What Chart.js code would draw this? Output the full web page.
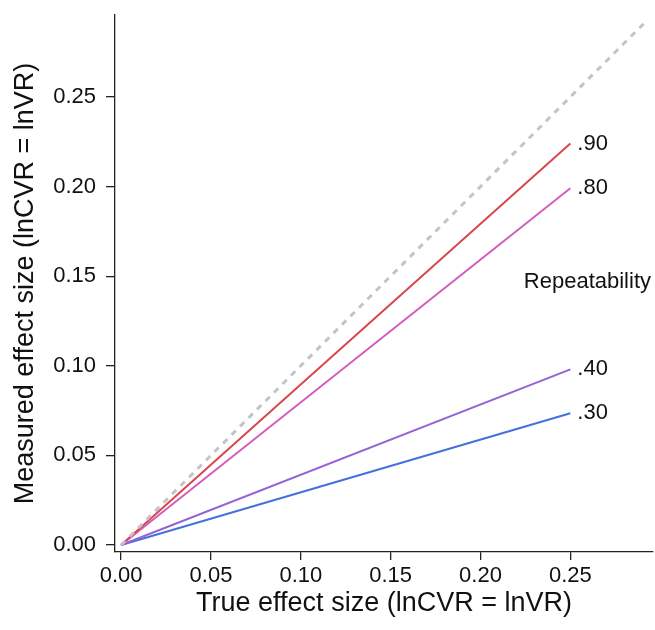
<!DOCTYPE html>
<html>
<head>
<meta charset="utf-8">
<script src="https://cdn.jsdelivr.net/npm/chart.js@4"></script>
<style>
  html, body { margin: 0; padding: 0; background: #ffffff; }
  #c { display: block; }
</style>
</head>
<body>
<canvas id="c" width="655" height="630"></canvas>
<script>
// ---- data ----
const trueEffect = [0, 0.25];
const identityX = [0, 0.291];
const identityY = [0, 0.291];
const repeatabilityLabels = ['.90', '.80', '.40', '.30'];
const measured90 = [0, 0.224];
const measured80 = [0, 0.199];
const measured40 = [0, 0.098];
const measured30 = [0, 0.0735];
const xTicks = [0, 0.05, 0.10, 0.15, 0.20, 0.25];
const yTicks = [0, 0.05, 0.10, 0.15, 0.20, 0.25];
const legendTitle = 'Repeatability';
const legendTitlePos = [0.2595, 0.147];
const xTitle = 'True effect size (lnCVR = lnVR)';
const yTitle = 'Measured effect size (lnCVR = lnVR)';

const seriesValues = [measured90, measured80, measured40, measured30];
const seriesColors = ['#d9464b', '#d45cbe', '#9563d6', '#4470dc'];

const toPts = (xs, ys) => xs.map((x, i) => ({ x: x, y: ys[i] }));

const datasets = [{
  label: 'identity',
  data: toPts(identityX, identityY),
  borderColor: '#c4c4c4',
  borderWidth: 3,
  borderDash: [6, 6],
  pointRadius: 0,
  showLine: true,
  fill: false
}];
seriesValues.forEach((vals, i) => {
  datasets.push({
    label: repeatabilityLabels[i],
    data: toPts(trueEffect, vals),
    borderColor: seriesColors[i],
    borderWidth: 2,
    pointRadius: 0,
    showLine: true,
    fill: false,
    endLabel: true
  });
});

const FONT = '"Liberation Sans", Arial, Helvetica, sans-serif';

const labelPlugin = {
  id: 'endLabels',
  afterDatasetsDraw(chart) {
    const ctx = chart.ctx;
    ctx.save();
    ctx.fillStyle = '#111';
    ctx.font = '22px ' + FONT;
    ctx.textBaseline = 'middle';
    ctx.textAlign = 'left';
    chart.data.datasets.forEach((ds, i) => {
      if (!ds.endLabel) return;
      const meta = chart.getDatasetMeta(i);
      const pt = meta.data[meta.data.length - 1];
      ctx.fillText(ds.label, pt.x + 7, pt.y);
    });
    const xs = chart.scales.x, ys = chart.scales.y;
    ctx.textAlign = 'center';
    ctx.font = '22px ' + FONT;
    ctx.fillText(legendTitle, xs.getPixelForValue(legendTitlePos[0]), ys.getPixelForValue(legendTitlePos[1]));
    ctx.restore();
  }
};

new Chart(document.getElementById('c'), {
  type: 'scatter',
  data: { datasets: datasets },
  options: {
    responsive: false,
    animation: false,
    layout: { padding: { top: 15, right: 2, left: 0, bottom: 0 } },
    plugins: { legend: { display: false }, tooltip: { enabled: false } },
    scales: {
      x: {
        type: 'linear',
        min: -0.0034,
        max: 0.296,
        afterBuildTicks: (s) => { s.ticks = xTicks.map(v => ({ value: v })); },
        afterFit: (s) => { s.height = 78; s.paddingLeft = 0; s.paddingRight = 0; },
        border: { display: true, color: '#222', width: 1.3 },
        grid: { display: true, drawOnChartArea: false, drawTicks: true, tickLength: 8, color: '#222', lineWidth: 1.3 },
        ticks: {
          autoSkip: false, maxRotation: 0, padding: 3,
          color: '#111', font: { family: FONT, size: 22 },
          callback: (v) => Number(v).toFixed(2)
        },
        title: { display: true, text: xTitle, color: '#111', font: { family: FONT, size: 27 }, padding: { top: 0, bottom: 10 } }
      },
      y: {
        type: 'linear',
        min: -0.0039,
        max: 0.2957,
        afterBuildTicks: (s) => { s.ticks = yTicks.map(v => ({ value: v })); },
        afterFit: (s) => { s.width = 115; s.paddingTop = 0; s.paddingBottom = 0; },
        border: { display: true, color: '#222', width: 1.3 },
        grid: { display: true, drawOnChartArea: false, drawTicks: true, tickLength: 9, color: '#222', lineWidth: 1.3 },
        ticks: {
          autoSkip: false, padding: 10,
          color: '#111', font: { family: FONT, size: 22 },
          callback: (v) => Number(v).toFixed(2)
        },
        title: { display: true, text: yTitle, color: '#111', font: { family: FONT, size: 27 }, padding: { top: 9, bottom: 0 } }
      }
    }
  },
  plugins: [labelPlugin]
});
</script>
</body>
</html>
